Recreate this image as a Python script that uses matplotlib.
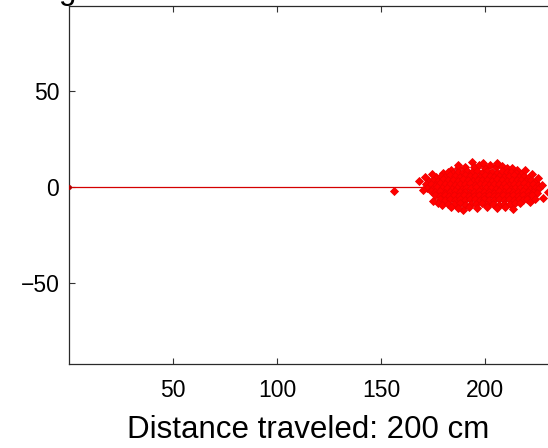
import matplotlib
matplotlib.use("Agg")
import matplotlib.pyplot as plt

# ---- data ----
path_x = [0, 200]
path_y = [0, 0]

cloud_x = [
    # top row
    183.5, 186.8, 190.2, 193.6, 194.5, 197.3, 199.8, 202.6, 205.4, 208.1, 210.7, 213.2, 215.6,
    # y ~ 7.5
    179.8, 182.1, 184.6, 186.9, 189.3, 191.5, 193.9, 196.2, 198.6, 200.9, 203.3, 205.7, 208.0,
    210.4, 212.6, 215.1, 217.5,
    # y ~ 5.5
    176.4, 178.7, 181.0, 183.4, 185.7, 188.1, 190.4, 192.8, 195.1, 197.5, 199.8, 202.2, 204.5,
    206.9, 209.2, 211.6, 213.9, 216.3, 218.6, 220.8,
    # y ~ 3.5
    173.0, 175.2, 177.6, 179.9, 182.3, 184.6, 187.0, 189.3, 191.7, 194.0, 196.4, 198.7, 201.1,
    203.4, 205.8, 208.1, 210.5, 212.8, 215.2, 217.5, 219.9, 222.2, 224.0,
    # y ~ 1.5
    171.6, 173.9, 176.3, 178.6, 181.0, 183.3, 185.7, 188.0, 190.4, 192.7, 195.1, 197.4, 199.8,
    202.1, 204.5, 206.8, 209.2, 211.5, 213.9, 216.2, 218.6, 220.9, 223.3, 225.4,
    # y ~ -0.5
    172.3, 174.7, 177.0, 179.4, 181.7, 184.1, 186.4, 188.8, 191.1, 193.5, 195.8, 198.2, 200.5,
    202.9, 205.2, 207.6, 209.9, 212.3, 214.6, 217.0, 219.3, 221.7, 224.0, 226.2,
    # y ~ -2.5
    173.8, 176.1, 178.5, 180.8, 183.2, 185.5, 187.9, 190.2, 192.6, 194.9, 197.3, 199.6, 202.0,
    204.3, 206.7, 209.0, 211.4, 213.7, 216.1, 218.4, 220.8, 223.1, 225.0,
    # y ~ -4.5
    175.9, 178.2, 180.6, 182.9, 185.3, 187.6, 190.0, 192.3, 194.7, 197.0, 199.4, 201.7, 204.1,
    206.4, 208.8, 211.1, 213.5, 215.8, 218.2, 220.5, 222.6,
    # y ~ -6.5
    178.4, 180.9, 183.3, 185.6, 188.0, 190.3, 192.7, 195.0, 197.4, 199.7, 202.1, 204.4, 206.8,
    209.1, 211.5, 213.8, 216.2, 218.5, 220.4,
    # y ~ -8.5
    177.5, 179.3, 182.4, 185.1, 187.8, 190.6, 193.2, 195.9, 198.5, 201.2, 203.8, 206.5, 209.1,
    211.8, 214.3, 216.9,
    # fringe
    189.6, 187.2, 192.4, 196.3, 200.9, 205.8, 209.7, 213.7, 183.6, 175.0, 221.8, 224.2, 228.0,
    230.5, 227.4, 225.3, 222.6, 219.1, 168.5, 156.2, 170.4, 171.3, 174.5, 199.0, 205.6, 187.0,
]
cloud_y = [
    9.0, 9.8, 10.3, 13.2, 10.6, 11.2, 10.1, 11.4, 10.6, 10.9, 9.6, 9.9, 8.7,
    7.1, 7.8, 7.4, 8.0, 7.6, 8.3, 7.7, 8.1, 7.5, 8.4, 7.9, 7.3, 8.2,
    7.6, 7.9, 7.2, 6.8,
    5.2, 5.9, 5.4, 6.1, 5.6, 5.3, 6.0, 5.5, 5.8, 5.1, 6.2, 5.6, 5.4,
    5.9, 5.2, 5.7, 6.0, 5.3, 5.6, 4.9,
    3.3, 3.8, 3.1, 3.9, 3.4, 3.7, 3.2, 3.9, 3.5, 3.0, 3.8, 3.4, 3.6,
    3.1, 3.9, 3.5, 3.2, 3.7, 3.4, 3.8, 3.1, 3.5, 2.8,
    1.4, 1.8, 1.1, 1.9, 1.3, 1.6, 1.0, 1.7, 1.4, 1.9, 1.2, 1.6, 1.5,
    1.1, 1.8, 1.3, 1.7, 1.0, 1.6, 1.4, 1.9, 1.2, 1.5, 0.9,
    -0.4, -0.9, -0.2, -0.7, -0.5, -1.0, -0.3, -0.8, -0.4, -0.6, -0.1, -0.9, -0.5,
    -0.3, -0.8, -0.6, -0.2, -0.9, -0.4, -0.7, -0.3, -0.8, -0.5, -0.6,
    -2.3, -2.8, -2.1, -2.9, -2.5, -2.2, -2.7, -2.4, -3.0, -2.6, -2.2, -2.8, -2.4,
    -2.9, -2.1, -2.6, -2.3, -2.8, -2.5, -2.2, -2.7, -2.4, -2.9,
    -4.3, -4.8, -4.1, -4.9, -4.4, -4.7, -4.2, -4.9, -4.5, -4.1, -4.8, -4.3, -4.6,
    -4.9, -4.2, -4.7, -4.4, -4.8, -4.1, -4.6, -4.3,
    -6.2, -6.8, -6.4, -7.0, -6.3, -6.9, -6.5, -6.1, -6.8, -6.4, -7.0, -6.6, -6.2,
    -6.9, -6.5, -6.7, -6.3, -6.9, -6.0,
    -8.4, -9.3, -8.6, -9.1, -8.3, -9.4, -8.7, -9.0, -8.5, -9.2, -8.8, -9.4, -8.6,
    -9.1, -8.4, -8.2,
    -12.0, -11.1, -10.6, -10.9, -10.2, -11.1, -10.4, -11.5, -10.3, -7.1, -8.0, -6.3, -5.7,
    -2.4, 0.8, 4.6, 6.8, 9.0, 3.1, -1.9, -1.8, 5.2, 6.6, 12.4, 12.2, 11.6,
]

x_ticks = [50, 100, 150, 200]
y_ticks = [-50, 0, 50]
x_label = "Distance traveled: 200 cm"
x_limits = (0, 236.06)
y_limits = (-92.1, 94.0)

plt.rcParams['font.family'] = ['Liberation Sans', 'DejaVu Sans']

W, H = 548, 448
fig = plt.figure(figsize=(W / 100, H / 100), dpi=100)
left_px, right_px, top_px, bottom_px = 69, 560, 6, 364.3
ax = fig.add_axes([left_px / W, (H - bottom_px) / H,
                   (right_px - left_px) / W, (bottom_px - top_px) / H])

ax.plot(path_x, path_y, color='#d40000', lw=0.9, zorder=2)
ax.plot([path_x[0]], [path_y[0]], 'o', color='#b00000', ms=2.5, zorder=3)
ax.plot(cloud_x, cloud_y, 'D', color='#ff0000', ms=3.6, mec='#f00000', mew=0.6,
        ls='none', zorder=4)

ax.set_xlim(*x_limits)
ax.set_ylim(*y_limits)
ax.set_xticks(x_ticks)
ax.set_yticks(y_ticks)
ax.tick_params(direction='in', length=4, width=0.8, color='#333333',
               top=True, right=True, labelsize=16.5, labelcolor='black')
ax.tick_params(axis='x', pad=10.5)
ax.tick_params(axis='y', pad=7)
for s in ax.spines.values():
    s.set_color('#2a2a2a')
    s.set_linewidth(0.9)

ax.set_xlabel(x_label, fontsize=22.5, labelpad=9.5, color='black')
ax.xaxis.label.set_x((308 - left_px) / (right_px - left_px))

# partially visible title glyph above the crop
fig.text(59 / W, (H + 1.5) / H, "g", fontsize=22.5, ha='left', va='baseline')

fig.savefig("out.png", dpi=100)
